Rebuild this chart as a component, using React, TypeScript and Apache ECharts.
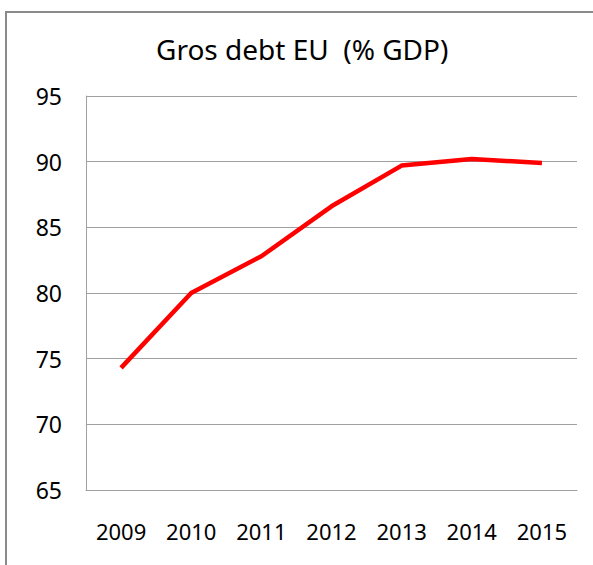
import React, { useEffect, useRef } from "react";
import * as echarts from "echarts";

const years = ["2009", "2010", "2011", "2012", "2013", "2014", "2015"];
const debt = [74.3, 80.0, 82.8, 86.6, 89.7, 90.2, 89.9];
const titleText = "Gros debt EU  (% GDP)";

export default function App() {
  const ref = useRef<HTMLDivElement>(null);
  useEffect(() => {
    if (!ref.current) return;
    const chart = echarts.init(ref.current, null, { renderer: "svg" });
    const font = "Noto Sans";
    chart.setOption({
      animation: false,
      backgroundColor: "#ffffff",
      title: {
        text: titleText,
        left: 151,
        top: 30,
        textStyle: { fontFamily: font, fontSize: 28, fontWeight: "normal", color: "#000" },
      },
      grid: { left: 86, right: 16, top: 96, bottom: 75 },
      xAxis: {
        type: "category",
        data: years,
        boundaryGap: true,
        axisLine: { show: true, lineStyle: { color: "#a0a0a0", width: 1 } },
        axisTick: { show: false },
        axisLabel: { fontFamily: font, fontSize: 22, color: "#000", margin: 30 },
      },
      yAxis: {
        type: "value",
        min: 65,
        max: 95,
        interval: 5,
        axisLine: { show: true, lineStyle: { color: "#a0a0a0", width: 1 } },
        axisTick: { show: false },
        splitLine: { show: true, lineStyle: { color: "#a0a0a0", width: 1 } },
        axisLabel: { fontFamily: font, fontSize: 23, color: "#000", margin: 24 },
      },
      graphic: [
        {
          type: "rect",
          shape: { x: 6, y: 12, width: 700, height: 700 },
          style: { fill: "none", stroke: "#8a8a8a", lineWidth: 2 },
          silent: true,
        },
      ],
      series: [
        {
          type: "line",
          data: debt,
          symbol: "none",
          lineStyle: { color: "#ff0000", width: 4.5 },
          itemStyle: { color: "#ff0000" },
        },
      ],
    });
    return () => chart.dispose();
  }, []);
  return (
    <div
      ref={ref}
      style={{ position: "fixed", left: 0, top: 0, width: 593, height: 565 }}
    />
  );
}
